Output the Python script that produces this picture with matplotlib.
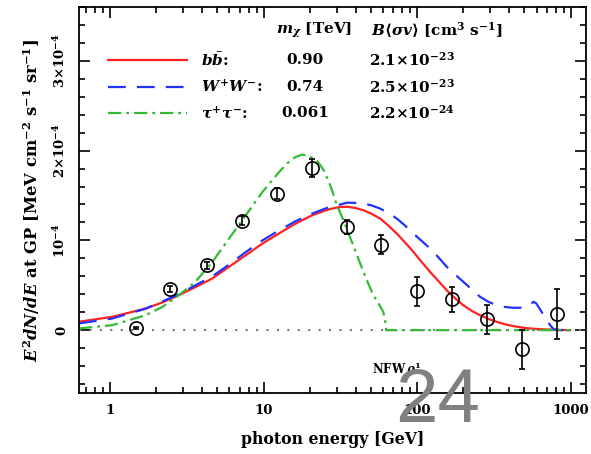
import matplotlib
matplotlib.use("Agg")
import matplotlib.pyplot as plt
from matplotlib.ticker import FixedLocator, LogLocator, NullFormatter, MultipleLocator

plt.rcParams['font.family'] = ['DejaVu Serif']
plt.rcParams['font.weight'] = 'bold'
plt.rcParams['axes.labelweight'] = 'bold'
plt.rcParams['mathtext.fontset'] = 'custom'
plt.rcParams['mathtext.rm'] = 'DejaVu Serif:bold'
plt.rcParams['mathtext.it'] = 'DejaVu Serif:bold:italic'
plt.rcParams['mathtext.bf'] = 'DejaVu Serif:bold'

# data points, y in units of 1e-4
pt_E = [1.48, 2.46, 4.26, 7.2, 12.2, 20.6, 34.8, 58.6, 100.5, 168, 285, 486, 810]
pt_y = [0.02, 0.457, 0.724, 1.218, 1.522, 1.81, 1.15, 0.954, 0.434, 0.345, 0.119, -0.215, 0.178]
pt_err = [0.01, 0.03, 0.04, 0.05, 0.06, 0.1, 0.08, 0.11, 0.163, 0.14, 0.16, 0.22, 0.28]

# b bbar, m = 0.90 TeV
bb_E = [0.628, 0.8, 1.035, 1.3, 1.71, 2.2, 2.81, 3.6, 4.64, 5.96, 7.66, 9.84, 12.6, 16.2,
        20.8, 26.7, 31, 34.8, 39.5, 44.7, 50.5, 57.4, 65, 73.7, 83.5, 94.6, 107, 121.5, 138,
        156, 177, 200, 227, 257, 292, 330, 375, 424, 480, 545, 620, 700, 850, 990]
bb_y = [0.094, 0.12, 0.149, 0.19, 0.242, 0.31, 0.39, 0.48, 0.576, 0.706, 0.835, 0.965, 1.077,
        1.188, 1.281, 1.347, 1.37, 1.375, 1.362, 1.336, 1.297, 1.244, 1.165, 1.077, 0.977,
        0.873, 0.76, 0.65, 0.545, 0.445, 0.355, 0.278, 0.215, 0.167, 0.125, 0.093, 0.065,
        0.045, 0.03, 0.019, 0.012, 0.008, 0.003, 0.0]

# W+W-, m = 0.74 TeV
ww_E = [0.628, 1.035, 1.71, 2.81, 3.6, 4.64, 5.96, 7.66, 9.84, 12.6, 16.2, 20.8, 26.7, 31,
        34.8, 39.5, 44.7, 50.5, 57.4, 65, 73.7, 83.5, 94.6, 107, 121.5, 138, 156, 177, 200,
        227, 257, 292, 330, 375, 424, 470, 518, 550, 574, 596, 618, 650, 700, 740, 776, 850,
        990]
ww_y = [0.075, 0.13, 0.24, 0.40, 0.50, 0.60, 0.73, 0.87, 1.0, 1.11, 1.215, 1.30, 1.37, 1.395,
        1.42, 1.418, 1.41, 1.39, 1.355, 1.305, 1.244, 1.165, 1.077, 0.995, 0.91, 0.81, 0.706,
        0.62, 0.539, 0.455, 0.372, 0.315, 0.278, 0.258, 0.249, 0.25, 0.26, 0.29, 0.316, 0.3,
        0.26, 0.2, 0.111, 0.05, 0.01, 0.0, 0.0]

# tau+tau-, m = 0.061 TeV
tt_E = [0.628, 1.035, 1.71, 2.2, 2.81, 3.6, 4.64, 5.96, 7.66, 9.84, 12.6, 14.3, 16.2, 17.9,
        20, 22.6, 24.5, 26.7, 28.3, 29.9, 32.5, 34.8, 39.5, 44.7, 51.8, 56, 60.2, 61.8, 63,
        70, 990]
tt_y = [0.019, 0.056, 0.167, 0.26, 0.39, 0.539, 0.76, 1.02, 1.28, 1.54, 1.76, 1.86, 1.93,
        1.956, 1.935, 1.875, 1.79, 1.65, 1.53, 1.40, 1.26, 1.13, 0.89, 0.65, 0.39, 0.30,
        0.205, 0.12, 0.0, 0.0, 0.0]

channels = [r'$b\bar{b}$:', r'$W^{+}W^{-}$:', r'$\tau^{+}\tau^{-}$:']
masses = ['0.90', '0.74', '0.061']
sigmav = [r'2.1$\times$10$^{-23}$', r'2.5$\times$10$^{-23}$', r'2.2$\times$10$^{-24}$']

yticks = [0, 1, 2, 3]
yticklabels = ['0', r'10$^{-4}$', r'2$\times$10$^{-4}$', r'3$\times$10$^{-4}$']

red = '#ff2222'
blue = '#2233ff'
green = '#33bb33'
lw = 1.6
blue_dash = (0, (8, 5))
green_dd = (0, (6, 2.2, 1.3, 2.2))

fig = plt.figure(figsize=(5.91, 4.54), dpi=100)
ax = fig.add_axes([79 / 591, 61 / 454, 507 / 591, 386 / 454])

ax.axhline(0, color='#777777', lw=1.5, ls=(0, (1, 4)))
ax.plot(bb_E, bb_y, color=red, lw=lw, solid_joinstyle='round')
ax.plot(ww_E, ww_y, color=blue, lw=lw, ls=blue_dash)
ax.plot(tt_E, tt_y, color=green, lw=lw, ls=green_dd)
ax.errorbar(pt_E, pt_y, yerr=pt_err, fmt='o', mfc='none', mec='black', ms=9.5, mew=1.2,
            ecolor='black', elinewidth=1.2, capsize=2.5, capthick=1.2)

ax.set_xscale('log')
ax.set_xlim(0.628, 1260)
ax.set_ylim(-0.7, 3.6)

ax.xaxis.set_major_locator(FixedLocator([1, 10, 100, 1000]))
ax.set_xticklabels(['1', '10', '100', '1000'])
ax.xaxis.set_minor_locator(LogLocator(base=10, subs=range(2, 10)))
ax.xaxis.set_minor_formatter(NullFormatter())
ax.yaxis.set_major_locator(FixedLocator(yticks))
ax.set_yticklabels(yticklabels, rotation=90, va='center')
ax.yaxis.set_minor_locator(MultipleLocator(0.2))

ax.tick_params(which='both', direction='in', top=True, right=True, width=1.2)
ax.tick_params(which='major', length=8, labelsize=9.5, pad=8)
ax.tick_params(which='minor', length=4)
for s in ax.spines.values():
    s.set_linewidth(1.3)

ax.set_xlabel('photon energy [GeV]', fontsize=11.3, labelpad=10)
ax.set_ylabel(r'$E^{2}dN/dE$ at GP [MeV cm$^{-2}$ s$^{-1}$ sr$^{-1}$]', fontsize=11.8, labelpad=7)

# legend block
tr = ax.transAxes
ax.text(0.464, 0.94, r'$m_{\chi}$ [TeV]', transform=tr, ha='center', va='center', fontsize=11)
ax.text(0.706, 0.94, r'$B\langle\sigma v\rangle$ [cm$^{3}$ s$^{-1}$]', transform=tr,
        ha='center', va='center', fontsize=11, math_fontfamily='dejavuserif')
rows_y = [0.863, 0.793, 0.725]
styles = [(red, '-'), (blue, blue_dash), (green, green_dd)]
for i in range(3):
    c, ls = styles[i]
    ax.plot([0.057, 0.213], [rows_y[i], rows_y[i]], transform=tr, color=c, ls=ls, lw=lw)
    ax.text(0.241, rows_y[i], channels[i], transform=tr, ha='left', va='center', fontsize=11)
    ax.text(0.446, rows_y[i], masses[i], transform=tr, ha='center', va='center', fontsize=11)
    ax.text(0.657, rows_y[i], sigmav[i], transform=tr, ha='center', va='center', fontsize=11)

ax.text(0.578, 0.06, r'NFW$\,\rho^{1}$', transform=tr, ha='left', va='center', fontsize=8.5)

fig.text(438 / 591, 32 / 454, '24', fontsize=55, color='#808080', family='Liberation Sans',
         fontweight='normal', ha='center', va='baseline')

fig.savefig('out.png', dpi=100)
